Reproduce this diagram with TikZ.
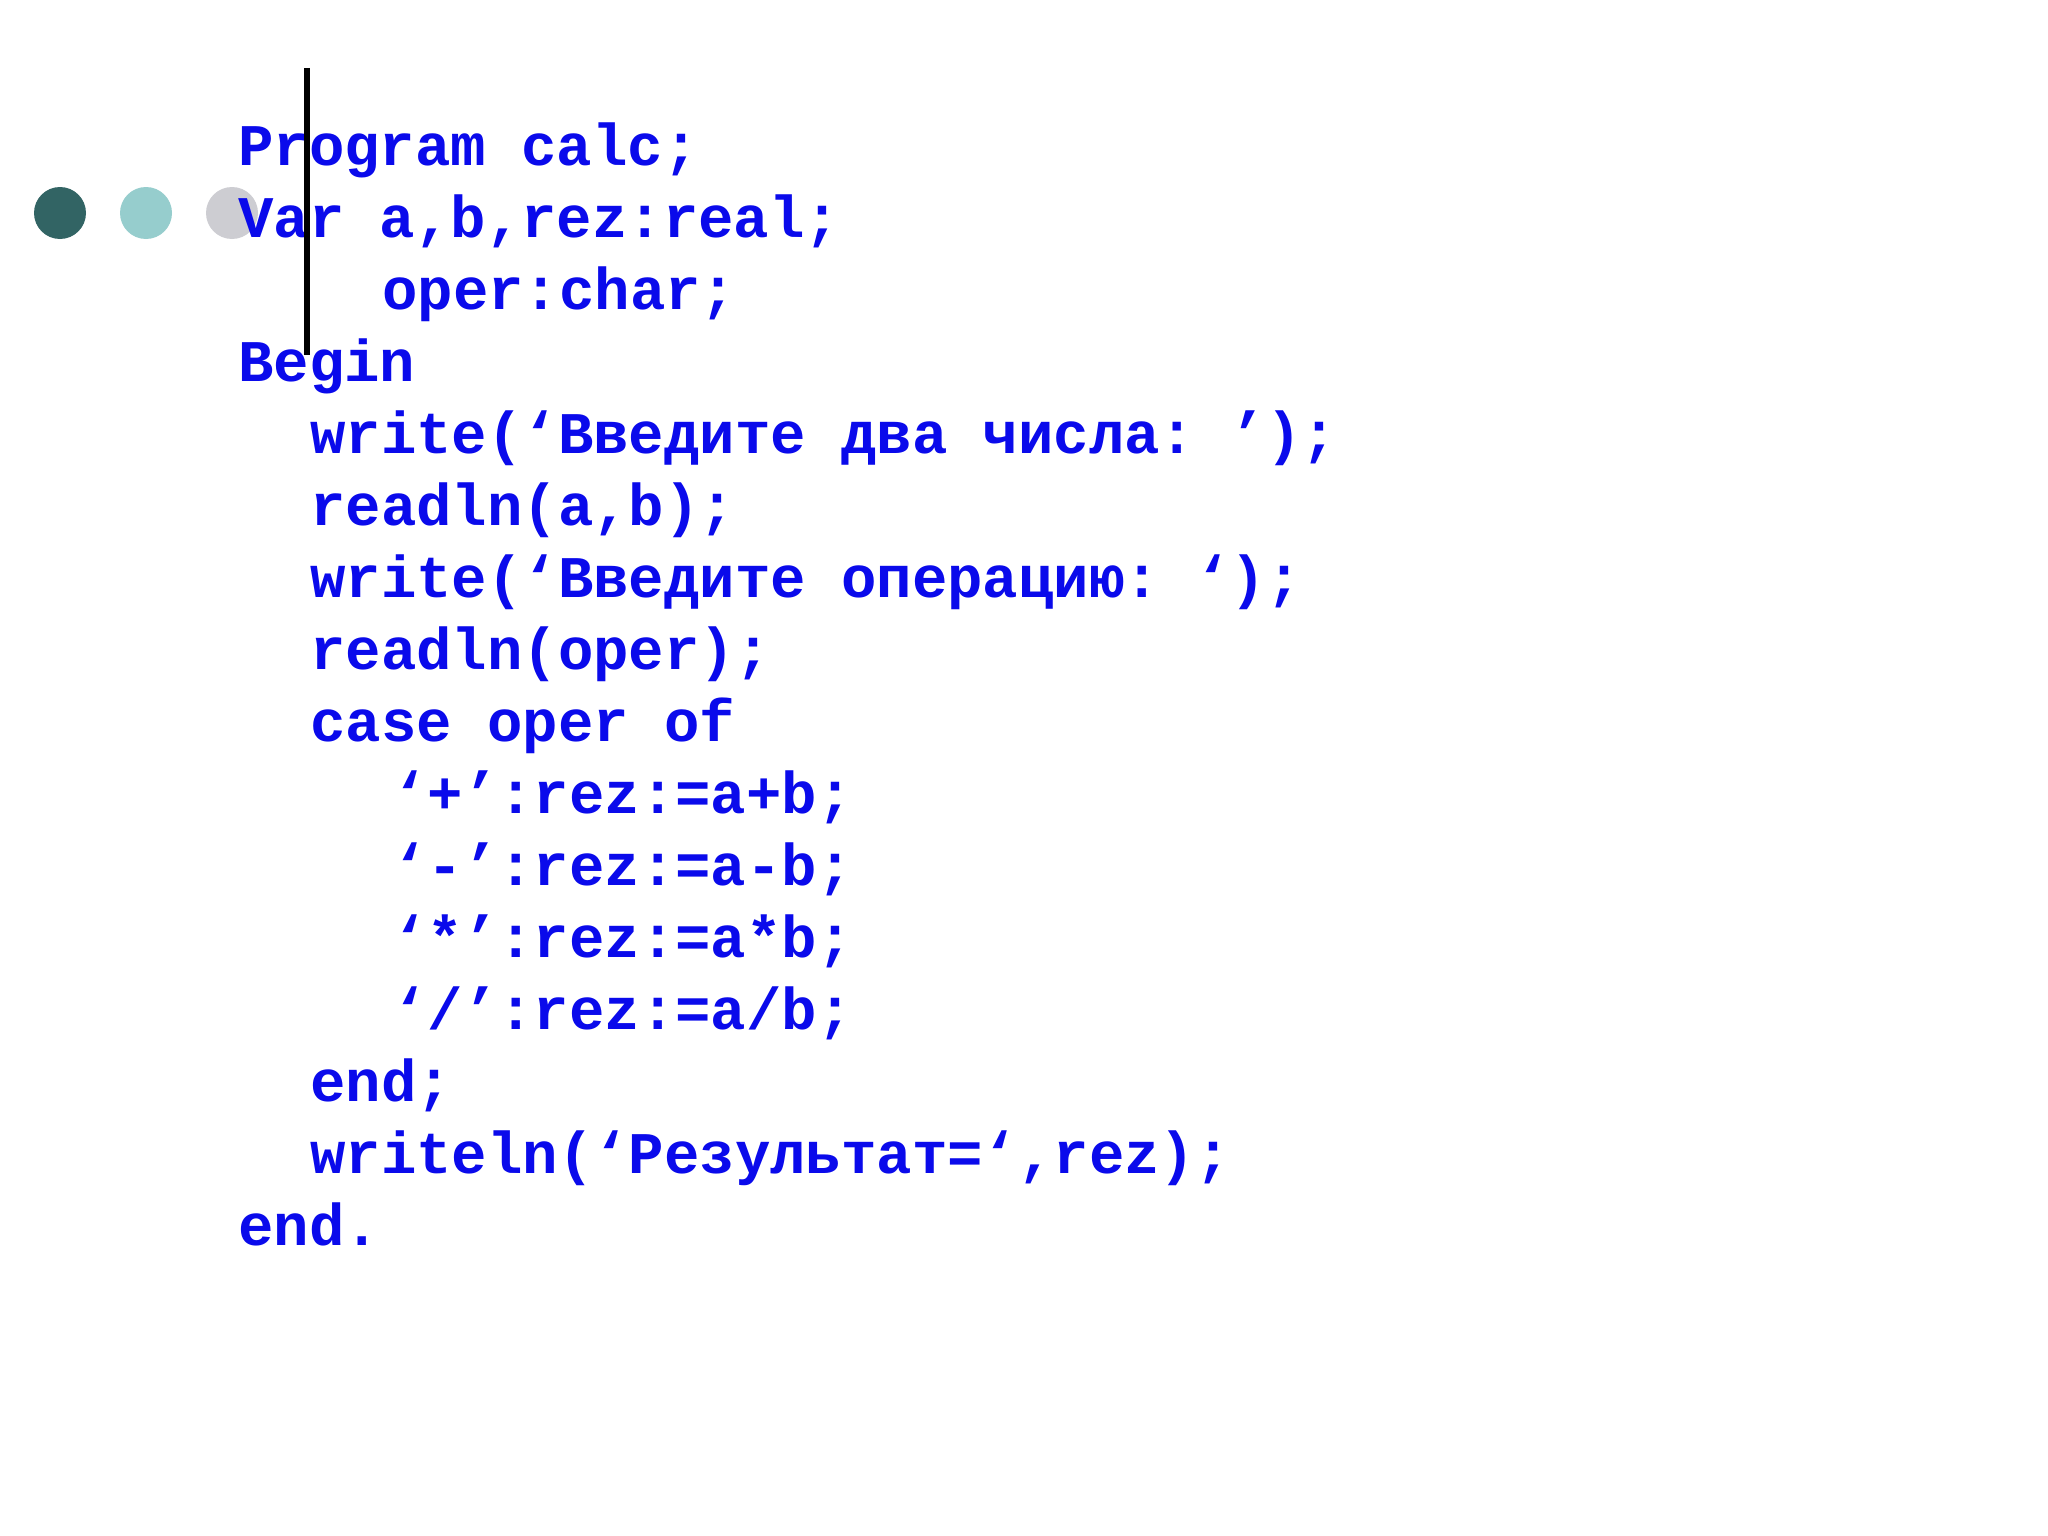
\documentclass[tikz,border=0pt]{standalone}
\usepackage{fontspec}
\setmonofont{Liberation Mono}
\definecolor{codeblue}{RGB}{10,10,235}
\definecolor{dteal}{RGB}{50,100,100}
\definecolor{lteal}{RGB}{150,205,205}
\definecolor{lgray}{RGB}{205,205,210}
\begin{document}
\begin{tikzpicture}[x=1pt,y=-1pt,
 code/.style={anchor=base west,inner sep=0pt,text=codeblue,font=\fontsize{59}{60}\ttfamily\bfseries}]
\useasboundingbox (0,0) rectangle (2048,1536);
\fill[white] (0,0) rectangle (2048,1536);
\fill[dteal] (60,213) circle (26);
\fill[lteal] (146,213) circle (26);
\fill[lgray] (232,213) circle (26);
\def\L#1#2#3#4{\node[code] (#1) at (#2,{145+72*#3+20}) {#4};}
\L{l0}{238}{0}{Program calc;}
\L{l1}{238}{1}{Var a,b,rez:real;}
\L{l2}{382}{2}{oper:char;}
\L{l3}{238}{3}{Begin}
\L{l4}{310}{4}{write(‘Введите два числа: ’);}
\L{l5}{310}{5}{readln(a,b);}
\L{l6}{310}{6}{write(‘Введите операцию: ‘);}
\L{l7}{310}{7}{readln(oper);}
\L{l8}{310}{8}{case oper of}
\L{l9}{392}{9}{‘+’:rez:=a+b;}
\L{l10}{392}{10}{‘-’:rez:=a-b;}
\L{l11}{392}{11}{‘*’:rez:=a*b;}
\L{l12}{392}{12}{‘/’:rez:=a/b;}
\L{l13}{310}{13}{end;}
\L{l14}{310}{14}{writeln(‘Результат=‘,rez);}
\L{l15}{238}{15}{end.}
\draw[line width=6pt] (307,68) -- (307,355);
\end{tikzpicture}
\end{document}
